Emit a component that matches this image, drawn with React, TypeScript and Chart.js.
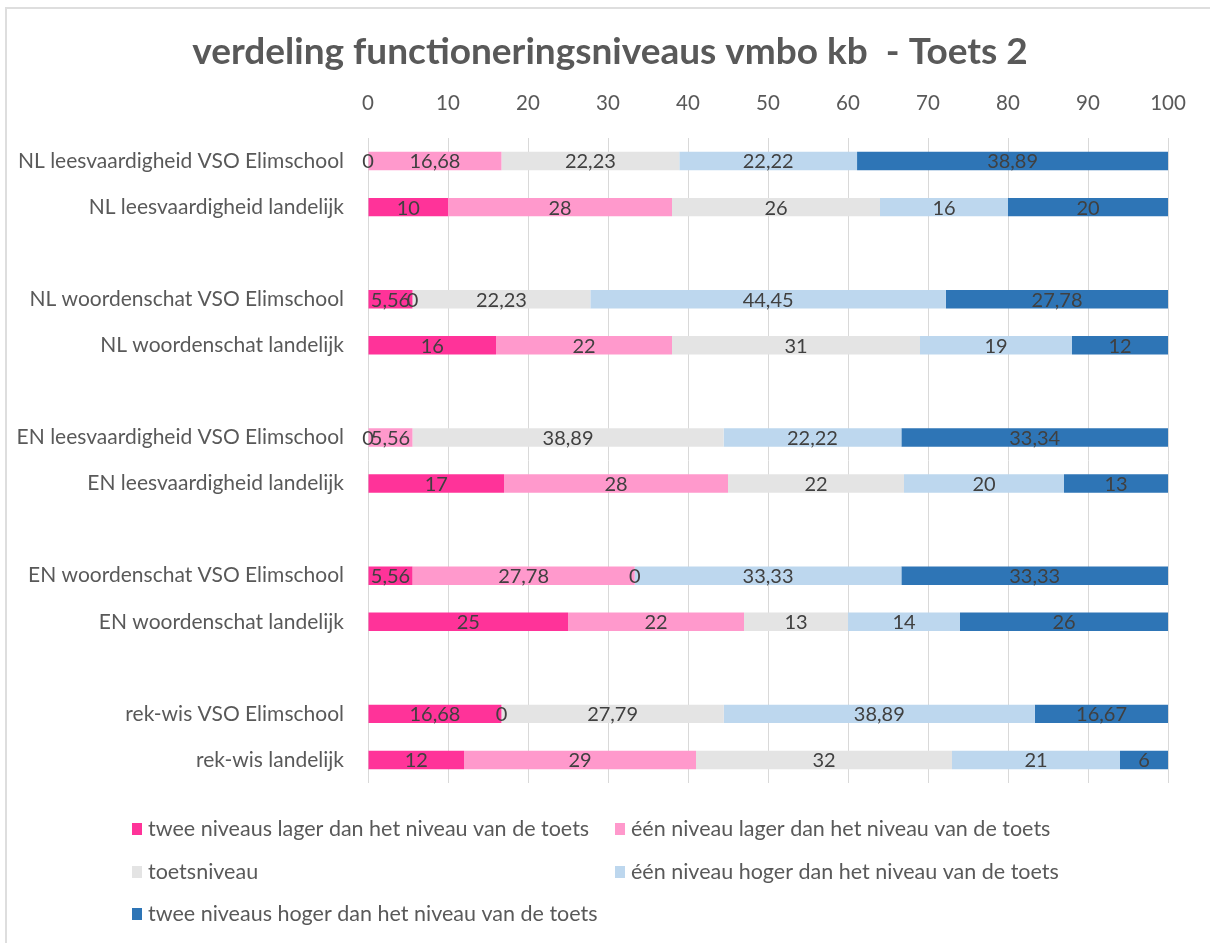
import React, { useEffect, useRef } from "react";
import { Chart, registerables } from "chart.js";

Chart.register(...registerables);

const categories = [
  "NL leesvaardigheid VSO Elimschool",
  "NL leesvaardigheid landelijk",
  "",
  "NL woordenschat VSO Elimschool",
  "NL woordenschat landelijk",
  "",
  "EN leesvaardigheid VSO Elimschool",
  "EN leesvaardigheid landelijk",
  "",
  "EN woordenschat VSO Elimschool",
  "EN woordenschat landelijk",
  "",
  "rek-wis VSO Elimschool",
  "rek-wis landelijk",
];

const tweeLager = [0, 10, null, 5.56, 16, null, 0, 17, null, 5.56, 25, null, 16.68, 12];
const eenLager = [16.68, 28, null, 0, 22, null, 5.56, 28, null, 27.78, 22, null, 0, 29];
const toetsniveau = [22.23, 26, null, 22.23, 31, null, 38.89, 22, null, 0, 13, null, 27.79, 32];
const eenHoger = [22.22, 16, null, 44.45, 19, null, 22.22, 20, null, 33.33, 14, null, 38.89, 21];
const tweeHoger = [38.89, 20, null, 27.78, 12, null, 33.34, 13, null, 33.33, 26, null, 16.67, 6];

const seriesNames = [
  "twee niveaus lager dan het niveau van de toets",
  "één niveau lager dan het niveau van de toets",
  "toetsniveau",
  "één niveau hoger dan het niveau van de toets",
  "twee niveaus hoger dan het niveau van de toets",
];
const seriesColors = ["#FF3399", "#FF99CC", "#E4E4E4", "#BDD7EE", "#2E75B6"];
const seriesData = [tweeLager, eenLager, toetsniveau, eenHoger, tweeHoger];

const xTicks = [0, 10, 20, 30, 40, 50, 60, 70, 80, 90, 100];

const titleText = "verdeling functioneringsniveaus vmbo kb  - Toets 2";

const FONT = "Lato";

const titlePlugin = {
  id: "customTitle",
  afterDraw(chart: any) {
    const ctx = chart.ctx;
    ctx.save();
    ctx.font = `bold 37px ${FONT}`;
    ctx.fillStyle = "#595959";
    ctx.textAlign = "center";
    ctx.textBaseline = "middle";
    ctx.fillText(titleText, 610, 52);
    ctx.restore();
  },
};

const dataLabelPlugin = {
  id: "dataLabels",
  afterDatasetsDraw(chart: any) {
    const ctx = chart.ctx;
    ctx.save();
    ctx.font = `20px ${FONT}`;
    ctx.fillStyle = "#404040";
    ctx.textAlign = "center";
    ctx.textBaseline = "middle";
    chart.data.datasets.forEach((ds: any, di: number) => {
      const meta = chart.getDatasetMeta(di);
      meta.data.forEach((bar: any, i: number) => {
        const v = ds.data[i];
        if (v === null || v === undefined) return;
        const x = (bar.x + bar.base) / 2;
        const txt = String(v).replace(".", ",");
        ctx.fillText(txt, x, bar.y + 1);
      });
    });
    ctx.restore();
  },
};

const legendPlugin = {
  id: "customLegend",
  afterDraw(chart: any) {
    const ctx = chart.ctx;
    ctx.save();
    ctx.font = `21.5px ${FONT}`;
    ctx.textBaseline = "middle";
    ctx.textAlign = "left";
    const cols = [132, 615];
    const rows = [829, 872, 914];
    seriesNames.forEach((name, i) => {
      const bx = cols[i % 2];
      const by = rows[Math.floor(i / 2)];
      ctx.fillStyle = seriesColors[i];
      ctx.fillRect(bx, by - 6, 10, 12);
      ctx.fillStyle = "#595959";
      ctx.fillText(name, bx + 16, by);
    });
    ctx.restore();
  },
};

export default function App() {
  const ref = useRef<HTMLCanvasElement | null>(null);
  useEffect(() => {
    if (!ref.current) return;
    const chart = new Chart(ref.current, {
      type: "bar",
      data: {
        labels: categories,
        datasets: seriesNames.map((n, i) => ({
          label: n,
          data: seriesData[i],
          backgroundColor: seriesColors[i],
          borderWidth: 0,
          barPercentage: 0.4,
          categoryPercentage: 1,
        })),
      },
      options: {
        indexAxis: "y",
        responsive: false,
        animation: false,
        layout: { padding: { left: 0, right: 42, top: 73, bottom: 160 } },
        plugins: {
          legend: { display: false },
          tooltip: { enabled: false },
          title: { display: false },
        },
        scales: {
          x: {
            position: "top",
            stacked: true,
            min: 0,
            max: 100,
            afterBuildTicks: (s: any) => {
              s.ticks = xTicks.map((v) => ({ value: v }));
            },
            afterFit: (s: any) => {
              s.height = 65;
            },
            grid: { color: "#D9D9D9", drawTicks: false, lineWidth: 1 },
            border: { display: false },
            ticks: {
              color: "#595959",
              font: { family: FONT, size: 20.5 },
              padding: 22,
              maxRotation: 0,
            },
          },
          y: {
            stacked: true,
            afterFit: (s: any) => {
              s.width = 368;
            },
            grid: { display: false, drawTicks: false },
            border: { display: false },
            ticks: {
              color: "#595959",
              font: { family: FONT, size: 21 },
              padding: 24,
              autoSkip: false,
            },
          },
        },
      },
      plugins: [titlePlugin, dataLabelPlugin, legendPlugin],
    });
    return () => chart.destroy();
  }, []);

  return (
    <div style={{ position: "absolute", left: 0, top: 0, width: 1210, height: 943, background: "#fff" }}>
      <div
        style={{
          position: "absolute",
          left: 5,
          top: 7,
          width: 1205,
          height: 936,
          borderTop: "2px solid #DEDEDE",
          borderLeft: "2px solid #DEDEDE",
          boxSizing: "border-box",
        }}
      />
      <canvas ref={ref} width={1210} height={943} style={{ position: "absolute", left: 0, top: 0 }} />
    </div>
  );
}
